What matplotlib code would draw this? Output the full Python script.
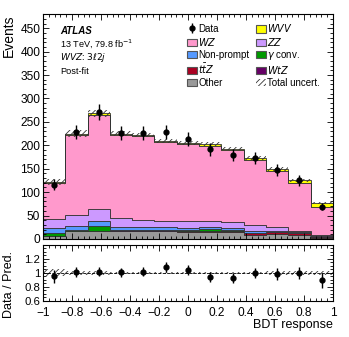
import numpy as np
import matplotlib
matplotlib.use('Agg')
import matplotlib.pyplot as plt
from matplotlib.patches import Patch
from matplotlib.lines import Line2D

plt.rcParams['font.family'] = ['Liberation Sans', 'DejaVu Sans']
plt.rcParams['hatch.linewidth'] = 0.6

# BDT response binning: 13 equal bins from -1 to 1
edges = np.linspace(-1, 1, 14)

# post-fit yields per bin
other = [5.5, 16, 16, 16, 16, 16, 15, 15, 15, 8.5, 10.5, 8, 2]
ttz = [0.5, 1, 1, 1.5, 2, 2, 2, 1.5, 2, 3.5, 3.5, 4.5, 3]
wtz = [0.5, 1, 1, 1, 1, 1, 1, 1, 1, 1, 1, 1, 0.5]
gconv = [5.5, 1, 9, 1, 1, 1, 1, 4, 1, 0.5, 0.5, 0, 0]
nonprompt = [10.5, 8.5, 11.5, 6, 5.5, 5, 5, 3.5, 4, 3, 2, 1, 0.5]
zz = [19, 24, 26, 18.5, 14.5, 14, 15, 13.5, 13.5, 13.5, 9, 2.5, 1.5]
wz = [77.5, 170.5, 200.5, 178, 179, 168, 163, 160.5, 152.5, 138, 117.5, 103, 60.5]
wvv = [3, 3, 3, 3, 3, 3, 3, 3, 4, 5, 5, 5, 9]
unc_rel = [0.05, 0.03, 0.025, 0.02, 0.02, 0.02, 0.02, 0.02, 0.02, 0.02, 0.025, 0.025, 0.03]

data = [116, 228, 272, 227, 226, 228, 214, 191, 179, 173, 147, 125, 69]
data_err = [11, 15, 17, 15, 15, 15, 15, 14, 13, 13, 12, 11, 8]

fig = plt.figure(figsize=(3.49, 3.37), dpi=100)
ax = fig.add_axes([0.123, 0.291, 0.831, 0.667])
rax = fig.add_axes([0.123, 0.107, 0.831, 0.166])

comps = [
    (other, '#999999', 'Other'),
    (ttz, '#aa0022', r'$t\bar{t}Z$'),
    (wtz, '#660066', r'$WtZ$'),
    (gconv, '#009900', r'$\gamma$ conv.'),
    (nonprompt, '#5599ff', 'Non-prompt'),
    (zz, '#cc99ff', r'$ZZ$'),
    (wz, '#ff99cc', r'$WZ$'),
    (wvv, '#ffff00', r'$WVV$'),
]

bottom = np.zeros(len(data))
handles = {}
for vals, col, lab in comps:
    vals = np.array(vals, dtype=float)
    ax.stairs(bottom + vals, edges, baseline=bottom, fill=True,
              facecolor=col, edgecolor='#333333', lw=0.6)
    handles[lab] = Patch(facecolor=col, edgecolor='#555555', lw=0.8)
    bottom = bottom + vals
total = bottom

unc = total * np.array(unc_rel)
ax.stairs(total + unc, edges, baseline=total - unc, fill=True,
          facecolor='none', edgecolor='#333333', lw=0, hatch='//////')

centers = 0.5 * (edges[:-1] + edges[1:])
ax.errorbar(centers, data, yerr=data_err, fmt='o', color='black',
            ms=3.5, lw=1, capsize=0)

ax.set_xlim(-1, 1)
ax.set_ylim(0, 480)
ax.set_yticks(np.arange(0, 451, 50))
ax.set_yticks(np.arange(0, 481, 10), minor=True)
ax.set_xticks(np.arange(-1, 1.01, 0.2))
ax.set_xticks(np.arange(-1, 1.01, 0.04), minor=True)
ax.tick_params(labelbottom=False)
ax.set_ylabel('Events', loc='top', fontsize=10)
ax.yaxis.set_label_coords(-0.095, 1.0)

# ATLAS label
ax.text(0.059, 0.924, 'ATLAS', transform=ax.transAxes, fontsize=7,
        fontweight='bold', fontstyle='italic', va='center')
ax.text(0.059, 0.867, r'13 TeV, 79.8 fb$^{-1}$', transform=ax.transAxes,
        fontsize=6.6, va='center')
ax.text(0.059, 0.807, r'$WVZ$: $3\ell 2j$', transform=ax.transAxes,
        fontsize=6.6, va='center')
ax.text(0.059, 0.747, 'Post-fit', transform=ax.transAxes, fontsize=6.6,
        va='center')

data_h = (Line2D([], [], marker='|', color='black', ms=7, mew=1, ls='none'),
          Line2D([], [], marker='o', color='black', ms=3.5, ls='none'))
unc_h = Patch(facecolor='none', edgecolor='#333333', lw=0, hatch='//////')
leg_h = [data_h, handles[r'$WZ$'], handles['Non-prompt'], handles[r'$t\bar{t}Z$'],
         handles['Other'], handles[r'$WVV$'], handles[r'$ZZ$'],
         handles[r'$\gamma$ conv.'], handles[r'$WtZ$'], unc_h]
leg_l = ['Data', r'$WZ$', 'Non-prompt', r'$t\bar{t}Z$', 'Other', r'$WVV$',
         r'$ZZ$', r'$\gamma$ conv.', r'$WtZ$', 'Total uncert.']
ax.legend(leg_h, leg_l, ncol=2, loc='upper left', bbox_to_anchor=(0.497, 0.965),
          frameon=False, fontsize=7, handlelength=1.0, handleheight=0.85,
          handletextpad=0.15, columnspacing=0.7, labelspacing=0.2,
          borderpad=0, borderaxespad=0)

# ratio panel
ratio = np.array(data) / total
ratio_err = np.array(data_err) / total
rax.stairs(1 + np.array(unc_rel), edges, baseline=1 - np.array(unc_rel), fill=True,
           facecolor='none', edgecolor='#333333', lw=0, hatch='//////')
rax.axhline(1, color='black', lw=0.6, ls='--')
rax.errorbar(centers, ratio, yerr=ratio_err, fmt='o', color='black',
             ms=3.5, lw=1, capsize=0)
rax.set_xlim(-1, 1)
rax.set_ylim(0.6, 1.4)
rax.set_yticks([0.6, 0.8, 1, 1.2])
rax.set_yticklabels(['0.6', '0.8', '1', '1.2'])
rax.set_yticks(np.arange(0.6, 1.41, 0.05), minor=True)
xt = np.round(np.arange(-1, 1.01, 0.2), 1)
rax.set_xticks(xt)
rax.set_xticklabels(['\u22121', '\u22120.8', '\u22120.6', '\u22120.4', '\u22120.2',
                     '0', '0.2', '0.4', '0.6', '0.8', '1'])
rax.set_xticks(np.arange(-1, 1.01, 0.04), minor=True)
rax.set_ylabel('Data / Pred.', fontsize=9)
rax.yaxis.set_label_coords(-0.095, 0.3)
rax.set_xlabel('BDT response', loc='right', fontsize=9, labelpad=0)

for a in (ax, rax):
    a.tick_params(which='both', direction='in', top=True, right=True,
                  labelsize=8.6, width=0.6, pad=2)
    a.tick_params(which='major', length=4.3)
    a.tick_params(which='minor', length=2.2)
    for s in a.spines.values():
        s.set_linewidth(0.8)
rax.tick_params(axis='x', pad=4.5)
rax.tick_params(axis='y', labelsize=8.2)

fig.savefig('out.png', dpi=100)
